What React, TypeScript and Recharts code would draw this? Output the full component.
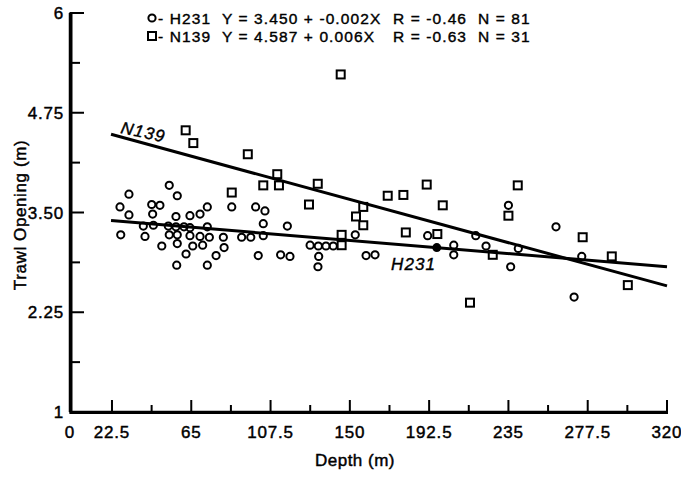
import React from 'react';
import { ScatterChart, Scatter, XAxis, YAxis } from 'recharts';

// axis ticks
const xMajorTicks = [0, 22.5, 65, 107.5, 150, 192.5, 235, 277.5, 320];
const xMinorTicks = [43.75, 86.25, 128.75, 171.25, 213.75, 256.25, 298.75];
const yMajorTicks = [1, 2.25, 3.5, 4.75, 6];
const yMinorTicks = [1.625, 2.875, 4.125, 5.375];
const yTickLabels = ['1', '2.25', '3.50', '4.75', '6'];

// H231 (circles)
const h231Depth = [27.2, 31.6, 26.8, 31.6, 40.2, 39.3, 43.8, 48.2, 44.3, 44.7, 53.2, 57.5, 49.2, 52.7, 53.2, 56.8, 57.5, 57.5, 56.8, 57.2, 61.1, 62.2, 64.3, 64.3, 64.3, 69.7, 73.6, 65.8, 69.7, 71.1, 73.6, 74.7, 73.6, 78.3, 82.2, 82.6, 86.7, 92.0, 96.9, 99.5, 104.5, 103.6, 103.6, 100.9, 112.9, 117.9, 116.5, 128.7, 133.1, 137.2, 141.1, 133.3, 132.9, 152.9, 158.7, 163.5, 191.7, 205.7, 205.7, 217.5, 223.0, 235.0, 236.2, 240.3, 260.5, 274.3, 270.2];
const h231Opening = [3.22, 3.73, 3.57, 3.47, 3.20, 3.33, 3.60, 3.59, 3.48, 3.34, 3.84, 3.71, 3.08, 3.33, 3.22, 3.45, 3.22, 3.11, 3.32, 2.84, 3.32, 2.98, 3.46, 3.31, 3.21, 3.48, 3.57, 3.08, 3.20, 3.09, 3.32, 3.19, 2.84, 2.96, 3.19, 3.06, 3.57, 3.19, 3.19, 3.57, 3.52, 3.36, 3.21, 2.96, 2.97, 2.95, 3.33, 3.09, 3.08, 3.08, 3.08, 2.95, 2.82, 3.22, 2.96, 2.97, 3.21, 3.09, 2.97, 3.21, 3.08, 3.59, 2.82, 3.05, 3.32, 2.95, 2.44];
const h231SolidDepth = [196.6];
const h231SolidOpening = [3.06];

// N139 (squares)
const n139Depth = [145.1, 62.0, 66.1, 95.3, 111.1, 103.6, 112.0, 86.7, 132.8, 128.1, 157.2, 153.3, 157.2, 145.6, 145.6, 170.3, 178.7, 191.2, 199.8, 180.0, 196.9, 240.0, 235.0, 274.8, 290.4, 226.6, 299.0, 214.4];
const n139Opening = [5.23, 4.53, 4.37, 4.23, 3.98, 3.84, 3.84, 3.75, 3.86, 3.60, 3.57, 3.45, 3.34, 3.22, 3.09, 3.71, 3.72, 3.85, 3.59, 3.25, 3.23, 3.84, 3.46, 3.19, 2.95, 2.97, 2.59, 2.37];

// fitted lines (end points)
const h231FitDepth = [22, 320];
const h231FitOpening = [3.40, 2.82];
const n139FitDepth = [22, 320];
const n139FitOpening = [4.48, 2.58];

const pairs = (xs: number[], ys: number[]) => xs.map((x, i) => ({ x, y: ys[i] }));

const xMin = xMajorTicks[0];
const xMax = xMajorTicks[xMajorTicks.length - 1];
const yMin = yMajorTicks[0];
const yMax = yMajorTicks[yMajorTicks.length - 1];

// plot frame (px)
const M = { top: 13, right: 14, left: 70, bottom: 65 };
const W = 681;
const H = 477;

const FONT = '"Liberation Sans", Arial, Helvetica, sans-serif';
const ink = { fill: '#000', stroke: '#000', strokeWidth: 0.45 };

const XTick = (props: any) => {
  const { x, y, payload } = props;
  const major = xMajorTicks.includes(payload.value);
  return (
    <g>
      <rect x={x - 1} y={y - (major ? 12 : 7)} width={2} height={major ? 12 : 7} fill="#000" />
      {major && (
        <text x={x} y={y + 26} textAnchor="middle" fontSize={17} letterSpacing={0.8} fontFamily={FONT} {...ink}>
          {payload.value}
        </text>
      )}
    </g>
  );
};

const YTick = (props: any) => {
  const { x, y, payload } = props;
  const idx = yMajorTicks.indexOf(payload.value);
  const major = idx >= 0;
  return (
    <g>
      <rect x={x} y={y - 1} width={major ? 14 : 10} height={2} fill="#000" />
      {major && (
        <text x={x - 6} y={y + 6} textAnchor="end" fontSize={17} letterSpacing={0.8} fontFamily={FONT} {...ink}>
          {yTickLabels[idx]}
        </text>
      )}
    </g>
  );
};

const Circle = (props: any) => (
  <circle cx={props.cx} cy={props.cy} r={3.6} fill="none" stroke="#000" strokeWidth={2} />
);
const SolidDot = (props: any) => <circle cx={props.cx} cy={props.cy} r={4.5} fill="#000" />;
const Square = (props: any) => (
  <rect x={props.cx - 4} y={props.cy - 4} width={8} height={8} fill="none" stroke="#000" strokeWidth={2} />
);
const NoShape = () => <g />;

export default function App() {
  return (
    <div style={{ position: 'absolute', left: 0, top: 0, width: W, height: H, background: '#fff' }}>
      <ScatterChart width={W} height={H} margin={{ top: M.top, right: M.right, bottom: 0, left: 0 }}>
        <XAxis
          type="number"
          dataKey="x"
          domain={[xMin, xMax]}
          ticks={[...xMajorTicks, ...xMinorTicks]}
          interval={0}
          height={M.bottom}
          tickSize={0}
          tickMargin={0}
          tickLine={false}
          tick={<XTick />}
          stroke="#000"
          axisLine={{ stroke: '#000', strokeWidth: 2.5 }}
          label={() => (
            <text x={355} y={466} textAnchor="middle" fontSize={17} letterSpacing={0.5} fontFamily={FONT} {...ink}>
              Depth (m)
            </text>
          )}
        />
        <YAxis
          type="number"
          dataKey="y"
          domain={[yMin, yMax]}
          ticks={[...yMajorTicks, ...yMinorTicks]}
          interval={0}
          width={M.left}
          tickSize={0}
          tickMargin={0}
          tickLine={false}
          tick={<YTick />}
          stroke="#000"
          axisLine={{ stroke: '#000', strokeWidth: 2.5 }}
          label={() => (
            <text
              x={26}
              y={215}
              transform="rotate(-90 26 215)"
              textAnchor="middle"
              fontSize={17}
              letterSpacing={0.6}
              fontFamily={FONT}
              {...ink}
            >
              Trawl Opening (m)
            </text>
          )}
        />
        <Scatter
          data={pairs(h231FitDepth, h231FitOpening)}
          line={{ stroke: '#000', strokeWidth: 3 }}
          shape={<NoShape />}
          isAnimationActive={false}
        />
        <Scatter
          data={pairs(n139FitDepth, n139FitOpening)}
          line={{ stroke: '#000', strokeWidth: 3 }}
          shape={<NoShape />}
          isAnimationActive={false}
        />
        <Scatter data={pairs(h231Depth, h231Opening)} shape={<Circle />} isAnimationActive={false} />
        <Scatter data={pairs(h231SolidDepth, h231SolidOpening)} shape={<SolidDot />} isAnimationActive={false} />
        <Scatter data={pairs(n139Depth, n139Opening)} shape={<Square />} isAnimationActive={false} />
      </ScatterChart>
      <svg
        width={W}
        height={H}
        style={{ position: 'absolute', left: 0, top: 0, pointerEvents: 'none' }}
        fontFamily={FONT}
        fontSize={15.5}
        letterSpacing={1.1}
        fill="#000"
        stroke="#000"
        strokeWidth={0.4}
      >
        {/* axis frame */}
        <rect x={M.left - 0.5} y={M.top - 1} width={3} height={H - M.bottom - M.top + 2.5} fill="#000" stroke="none" />
        <rect x={M.left - 0.5} y={H - M.bottom - 1} width={W - M.right - M.left + 1.5} height={3} fill="#000" stroke="none" />

        <circle cx={152} cy={18} r={3.6} fill="none" stroke="#000" strokeWidth={2} />
        <text x={158} y={24}>- H231</text>
        <text x={222} y={24}>Y = 3.450 + -0.002X</text>
        <text x={393} y={24}>R = -0.46</text>
        <text x={478} y={24}>N = 81</text>
        <rect x={148} y={32} width={8} height={8} fill="none" stroke="#000" strokeWidth={2} />
        <text x={158} y={42}>- N139</text>
        <text x={222} y={42}>Y = 4.587 + 0.006X</text>
        <text x={393} y={42}>R = -0.63</text>
        <text x={478} y={42}>N = 31</text>
        <text x={120} y={133} fontSize={17} fontStyle="italic" transform="rotate(12 120 133)">N139</text>
        <text x={391} y={270} fontSize={17} fontStyle="italic">H231</text>
      </svg>
    </div>
  );
}
